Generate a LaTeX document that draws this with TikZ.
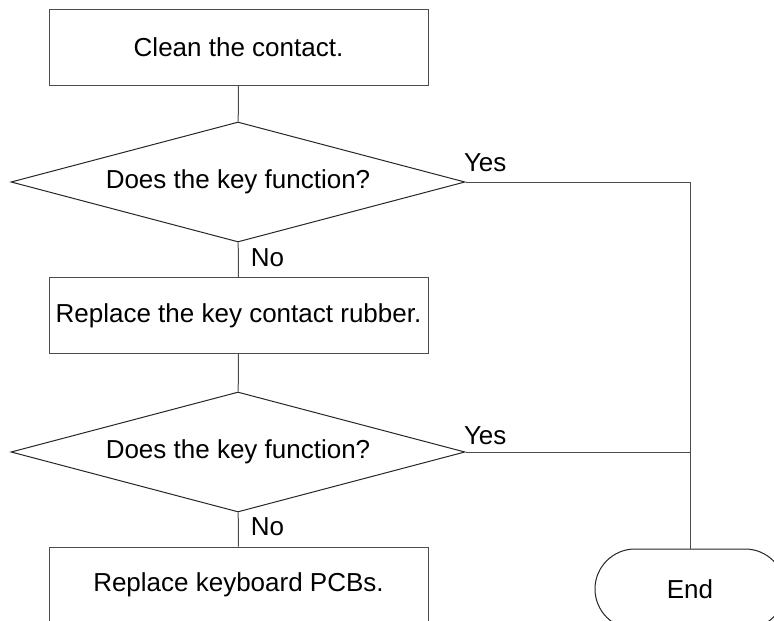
\documentclass[tikz,border=0pt]{standalone}
\usepackage{fontspec}
\setmainfont{Liberation Sans}
\usetikzlibrary{shapes.geometric,shapes.misc}

\begin{document}
\begin{tikzpicture}[x=1pt,y=-1pt,line width=1pt,
  every node/.style={font=\fontsize{26}{31}\selectfont,inner sep=0pt},
  proc/.style={draw=black!70,rectangle,minimum width=379pt,minimum height=76pt},
  decide/.style={draw=black!85,diamond,aspect=3.78,minimum width=454pt,minimum height=120pt},
  term/.style={draw=black!85,rounded rectangle,minimum width=190pt,minimum height=80pt},
  conn/.style={draw=black!70}]
\useasboundingbox (0,0) rectangle (774,621);
\clip (0,0) rectangle (774,621);

\node[proc] (clean) at (238.5,47) {Clean the contact.};
\node[decide] (test1) at (238,182) {Does the key function?};
\node[proc] (rubber) at (238.5,315.5) {Replace the key contact rubber.};
\node[decide] (test2) at (238,452) {Does the key function?};
\node[proc] (pcb) at (238.5,585) {Replace keyboard PCBs.};
\node[term] (end) at (690,589) {End};

\draw[conn] (clean) -- (test1);
\draw[conn] (test1) -- (rubber)
  node[pos=1,anchor=base west,xshift=12pt,yshift=11pt] {No};
\draw[conn] (rubber) -- (test2);
\draw[conn] (test2) -- (pcb)
  node[pos=1,anchor=base west,xshift=12pt,yshift=11pt] {No};
\draw[conn] (test1.east) -| (end.north)
  node[pos=0,anchor=base west,xshift=-2pt,yshift=11pt] {Yes};
\draw[conn] (test2.east) -- (test2.east -| end.north)
  node[pos=0,anchor=base west,xshift=-2pt,yshift=8pt] {Yes};
\end{tikzpicture}
\end{document}
